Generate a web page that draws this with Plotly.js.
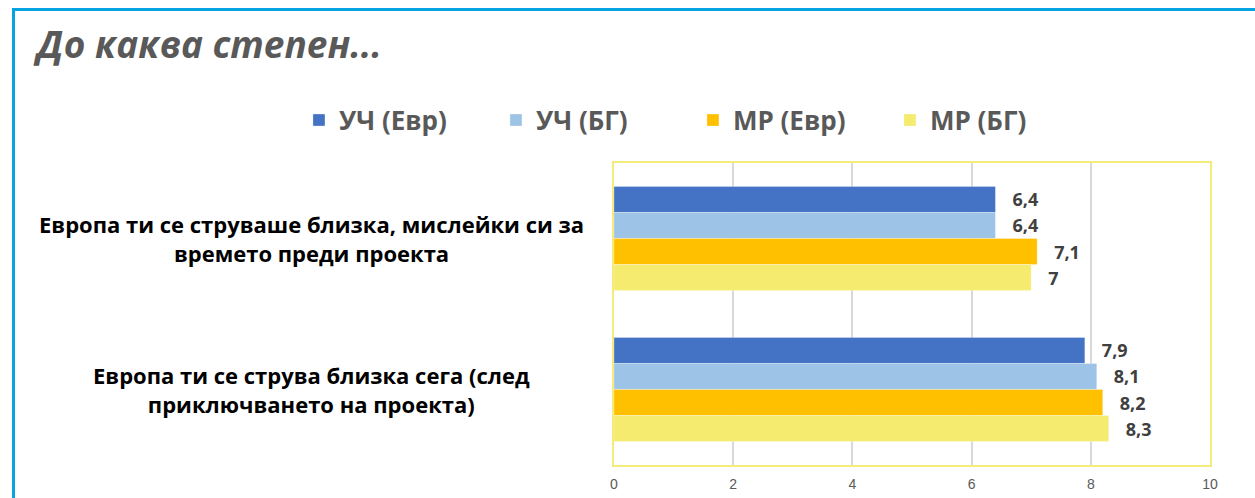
<!DOCTYPE html>
<html>
<head>
<meta charset="utf-8">
<script src="https://cdn.plot.ly/plotly-3.0.1.min.js"></script>
<style>
  html, body { margin: 0; padding: 0; background: #ffffff; }
  #wrap { position: relative; width: 1255px; height: 498px; overflow: hidden; }
  #frame { position: absolute; left: 12px; top: 8px; width: 1300px; height: 600px;
           border-top: 3px solid #07A2E2; border-left: 3px solid #07A2E2; box-sizing: border-box; }
  #chart { position: absolute; left: 0; top: 0; width: 1255px; height: 498px; }
</style>
</head>
<body>
<div id="wrap">
  <div id="frame"></div>
  <div id="chart"></div>
</div>
<script>
const categories = [
  'Европа ти се струваше близка, мислейки си за<br>времето преди проекта',
  'Европа ти се струва близка сега (след<br>приключването на проекта)'
];
const seriesNames = ['УЧ (Евр)', 'УЧ (БГ)', 'МР (Евр)', 'МР (БГ)'];
const uchEvr = [6.4, 7.9];
const uchBg  = [6.4, 8.1];
const mrEvr  = [7.1, 8.2];
const mrBg   = [7.0, 8.3];
const xTicks = [0, 2, 4, 6, 8, 10];

const seriesValues = [uchEvr, uchBg, mrEvr, mrBg];
const colors = ['#4472C4', '#9DC3E6', '#FFC000', '#F4EB6F'];

const traces = seriesValues.map((vals, i) => ({
  type: 'bar',
  orientation: 'h',
  name: seriesNames[i],
  x: vals,
  y: categories,
  marker: { color: colors[i], line: { color: 'rgba(255,255,255,0.6)', width: 0.5 } },
  text: vals.map(v => String(v).replace('.', ',')),
  texttemplate: '\u00a0\u00a0\u00a0%{text}',
  textposition: 'outside',
  cliponaxis: false,
  constraintext: 'none',
  textfont: { family: 'Open Sans, sans-serif', size: 18, color: '#404040', weight: 'bold' },
  hoverinfo: 'x+name'
}));

const annotations = categories.map(c => ({
  xref: 'paper', yref: 'y',
  x: -0.507, y: c,
  xanchor: 'center', yanchor: 'middle',
  text: c, showarrow: false, align: 'center',
  font: { family: 'Open Sans, sans-serif', size: 22, color: '#000000', weight: 'bold' }
}));

const layout = {
  width: 1255, height: 498,
  paper_bgcolor: 'rgba(0,0,0,0)',
  plot_bgcolor: '#ffffff',
  margin: { l: 614, r: 45, t: 163, b: 33 },
  title: {
    text: 'До каква степен...',
    xref: 'container', yref: 'container',
    x: 0.0295, xanchor: 'left',
    y: 0.91, yanchor: 'middle',
    font: { family: 'Open Sans, sans-serif', size: 37, color: '#595959', weight: 'bold', style: 'italic' }
  },
  barmode: 'group',
  bargap: 0.31,
  bargroupgap: 0,
  showlegend: true,
  legend: {
    orientation: 'h',
    xref: 'paper', yref: 'paper',
    x: -0.5286, xanchor: 'left',
    y: 1.142, yanchor: 'middle',
    traceorder: 'normal',
    font: { family: 'Open Sans, sans-serif', size: 26, color: '#595959', weight: 'bold' },
    itemwidth: 30,
    entrywidth: 152,
    entrywidthmode: 'pixels'
  },
  xaxis: {
    range: [0, 10],
    tickvals: xTicks,
    ticktext: xTicks.map(String),
    showgrid: true, gridcolor: '#D9D9D9', gridwidth: 2,
    zeroline: false,
    showline: true, linecolor: '#F4EB7A', linewidth: 2, mirror: true,
    ticks: '',
    ticklabelstandoff: 5,
    tickfont: { family: 'Liberation Sans Narrow, Liberation Sans, sans-serif', size: 14, color: '#595959' },
    fixedrange: true
  },
  yaxis: {
    type: 'category',
    autorange: 'reversed',
    showticklabels: false,
    showgrid: false,
    zeroline: false,
    showline: true, linecolor: '#F4EB7A', linewidth: 2, mirror: true,
    ticks: '',
    fixedrange: true
  },
  annotations: annotations
};

Plotly.newPlot('chart', traces, layout, { displayModeBar: false, staticPlot: true });
</script>
</body>
</html>
